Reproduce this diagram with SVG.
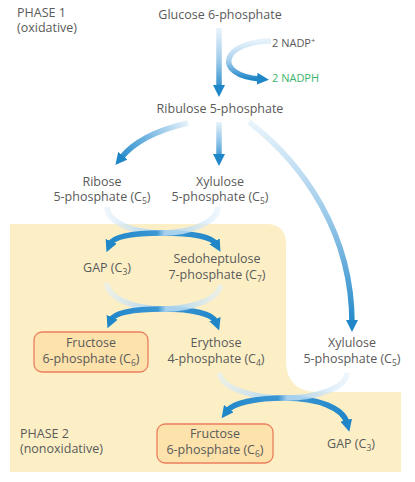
<svg xmlns="http://www.w3.org/2000/svg" width="415" height="482" viewBox="0 0 415 482">
<style>
text{font-family:"Open Sans","Liberation Sans",sans-serif;font-size:12.5px;fill:#5a5a5a;text-anchor:middle}
.l{text-anchor:start}
.sm{font-size:11px}
.g{fill:#3db46d}
.sub{font-size:8.5px}
.arr{fill:none;stroke-width:5.5;marker-end:url(#ah)}
.box{fill:#fde2ab;stroke:#ec7e5e;stroke-width:1.3}
</style>
<defs>
<marker id="ah" markerUnits="userSpaceOnUse" markerWidth="12" markerHeight="12" viewBox="0 0 12 12" refX="3" refY="6" orient="auto">
<path d="M0,0 L12,6 L0,12 z" fill="#1f86c8"/>
</marker>
<linearGradient id="gTop" gradientUnits="userSpaceOnUse" x1="0" y1="28" x2="0" y2="92"><stop offset="0" stop-color="#eaf4fb"/><stop offset="0.5" stop-color="#9fcbea"/><stop offset="1" stop-color="#1f86c8"/></linearGradient>
<linearGradient id="gSide" gradientUnits="userSpaceOnUse" x1="0" y1="41" x2="0" y2="79"><stop offset="0" stop-color="#e6f2fa"/><stop offset="0.5" stop-color="#a9d1ee"/><stop offset="1" stop-color="#1f86c8"/></linearGradient>
<linearGradient id="gL" gradientUnits="userSpaceOnUse" x1="188" y1="123" x2="117" y2="163"><stop offset="0" stop-color="#e6f2fa"/><stop offset="0.55" stop-color="#6fb3e0"/><stop offset="1" stop-color="#1f86c8"/></linearGradient>
<linearGradient id="gC" gradientUnits="userSpaceOnUse" x1="0" y1="122" x2="0" y2="163"><stop offset="0" stop-color="#e6f2fa"/><stop offset="0.5" stop-color="#8cc2e8"/><stop offset="1" stop-color="#1f86c8"/></linearGradient>
<linearGradient id="gR" gradientUnits="userSpaceOnUse" x1="0" y1="122" x2="0" y2="328"><stop offset="0" stop-color="#eaf4fb"/><stop offset="0.45" stop-color="#9ccaea"/><stop offset="1" stop-color="#1f86c8"/></linearGradient>
<linearGradient id="x1a" gradientUnits="userSpaceOnUse" x1="107" y1="0" x2="218" y2="0"><stop offset="0" stop-color="#e3f0fa" stop-opacity="0.6"/><stop offset="0.48" stop-color="#a6d0ee"/><stop offset="0.55" stop-color="#3b96d4"/><stop offset="1" stop-color="#1f86c8"/></linearGradient>
<linearGradient id="x1b" gradientUnits="userSpaceOnUse" x1="218" y1="0" x2="107" y2="0"><stop offset="0" stop-color="#e3f0fa" stop-opacity="0.6"/><stop offset="0.48" stop-color="#a6d0ee"/><stop offset="0.55" stop-color="#3b96d4"/><stop offset="1" stop-color="#1f86c8"/></linearGradient>
<linearGradient id="x2a" gradientUnits="userSpaceOnUse" x1="107" y1="0" x2="220" y2="0"><stop offset="0" stop-color="#e3f0fa" stop-opacity="0.6"/><stop offset="0.48" stop-color="#a6d0ee"/><stop offset="0.55" stop-color="#3b96d4"/><stop offset="1" stop-color="#1f86c8"/></linearGradient>
<linearGradient id="x2b" gradientUnits="userSpaceOnUse" x1="220" y1="0" x2="107" y2="0"><stop offset="0" stop-color="#e3f0fa" stop-opacity="0.6"/><stop offset="0.48" stop-color="#a6d0ee"/><stop offset="0.55" stop-color="#3b96d4"/><stop offset="1" stop-color="#1f86c8"/></linearGradient>
<linearGradient id="x3a" gradientUnits="userSpaceOnUse" x1="220" y1="0" x2="350" y2="0"><stop offset="0" stop-color="#e3f0fa" stop-opacity="0.6"/><stop offset="0.48" stop-color="#a6d0ee"/><stop offset="0.55" stop-color="#3b96d4"/><stop offset="1" stop-color="#1f86c8"/></linearGradient>
<linearGradient id="x3b" gradientUnits="userSpaceOnUse" x1="347" y1="0" x2="222" y2="0"><stop offset="0" stop-color="#e3f0fa" stop-opacity="0.6"/><stop offset="0.48" stop-color="#a6d0ee"/><stop offset="0.55" stop-color="#3b96d4"/><stop offset="1" stop-color="#1f86c8"/></linearGradient>
</defs>
<rect width="415" height="482" fill="#ffffff"/>
<path id="phase2-bg" d="M10,224 H266 Q286,224 286,244 V360 Q286,392 318,392 H401 V472 H10 Z" fill="#fcefc6"/>

<g id="connectors">
<path class="arr" stroke="url(#gTop)" d="M219,28 V88"/>
<path class="arr" stroke="url(#gSide)" d="M271,41 C222,41 212,75 260,79"/>
<path class="arr" stroke="url(#gL)" d="M188,123 Q140,134 121,158"/>
<path class="arr" stroke="url(#gC)" d="M219,122 V157"/>
<path class="arr" stroke="url(#gR)" stroke-width="4.5" d="M249,122 C305,165 352,235 352,323"/>
<path class="arr" stroke="url(#x1a)" d="M107,207 C107,221 131,233 162,233 C193,233 212,237 216,244"/>
<path class="arr" stroke="url(#x1b)" d="M218,207 C218,221 193,233 162,233 C131,233 113,237 110,244"/>
<path class="arr" stroke="url(#x2a)" d="M107,283 C107,297 132,309 163,309 C193,309 213,314 216,322"/>
<path class="arr" stroke="url(#x2b)" d="M220,285 C220,298 194,309 163,309 C132,309 114,313 111,320"/>
<path class="arr" stroke="url(#x3a)" d="M220,373 C220,387 250,398 285,398 C318,398 343,408 347,423"/>
<path class="arr" stroke="url(#x3b)" d="M347,373 C347,387 318,398 285,398 C255,398 233,403 227,411"/>
</g>

<g id="phase1-label"><text class="l" x="17" y="17">PHASE 1</text><text class="l" x="17" y="32">(oxidative)</text></g>
<g id="glucose6p"><text x="220" y="19">Glucose 6-phosphate</text></g>
<g id="nadp"><text class="l sm" x="272" y="47">2 NADP<tspan dy="-4" font-size="7.5">+</tspan></text></g>
<g id="nadph"><text class="l sm g" x="272" y="82">2 NADPH</text></g>
<g id="ribulose5p"><text x="220" y="113">Ribulose 5-phosphate</text></g>
<g id="ribose5p"><text x="102" y="186">Ribose</text><text x="102" y="201">5-phosphate (C<tspan class="sub" dy="3">5</tspan><tspan dy="-3">)</tspan></text></g>
<g id="xylulose5p-a"><text x="220" y="186">Xylulose</text><text x="220" y="201">5-phosphate (C<tspan class="sub" dy="3">5</tspan><tspan dy="-3">)</tspan></text></g>
<g id="gap-a"><text x="107" y="272">GAP (C<tspan class="sub" dy="3">3</tspan><tspan dy="-3">)</tspan></text></g>
<g id="sedoheptulose7p"><text x="217" y="263">Sedoheptulose</text><text x="217" y="279">7-phosphate (C<tspan class="sub" dy="3">7</tspan><tspan dy="-3">)</tspan></text></g>
<g id="fructose6p-a"><rect class="box" x="34" y="332" width="114" height="40" rx="8"/><text x="91" y="347">Fructose</text><text x="91" y="363">6-phosphate (C<tspan class="sub" dy="3">6</tspan><tspan dy="-3">)</tspan></text></g>
<g id="erythrose4p"><text x="216" y="347">Erythose</text><text x="216" y="363">4-phosphate (C<tspan class="sub" dy="3">4</tspan><tspan dy="-3">)</tspan></text></g>
<g id="xylulose5p-b"><text x="352" y="347">Xylulose</text><text x="352" y="363">5-phosphate (C<tspan class="sub" dy="3">5</tspan><tspan dy="-3">)</tspan></text></g>
<g id="phase2-label"><text class="l" x="20" y="438">PHASE 2</text><text class="l" x="20" y="453">(nonoxidative)</text></g>
<g id="fructose6p-b"><rect class="box" x="157" y="424" width="116" height="39" rx="8"/><text x="215" y="438">Fructose</text><text x="215" y="454">6-phosphate (C<tspan class="sub" dy="3">6</tspan><tspan dy="-3">)</tspan></text></g>
<g id="gap-b"><text x="351" y="448">GAP (C<tspan class="sub" dy="3">3</tspan><tspan dy="-3">)</tspan></text></g>
</svg>
